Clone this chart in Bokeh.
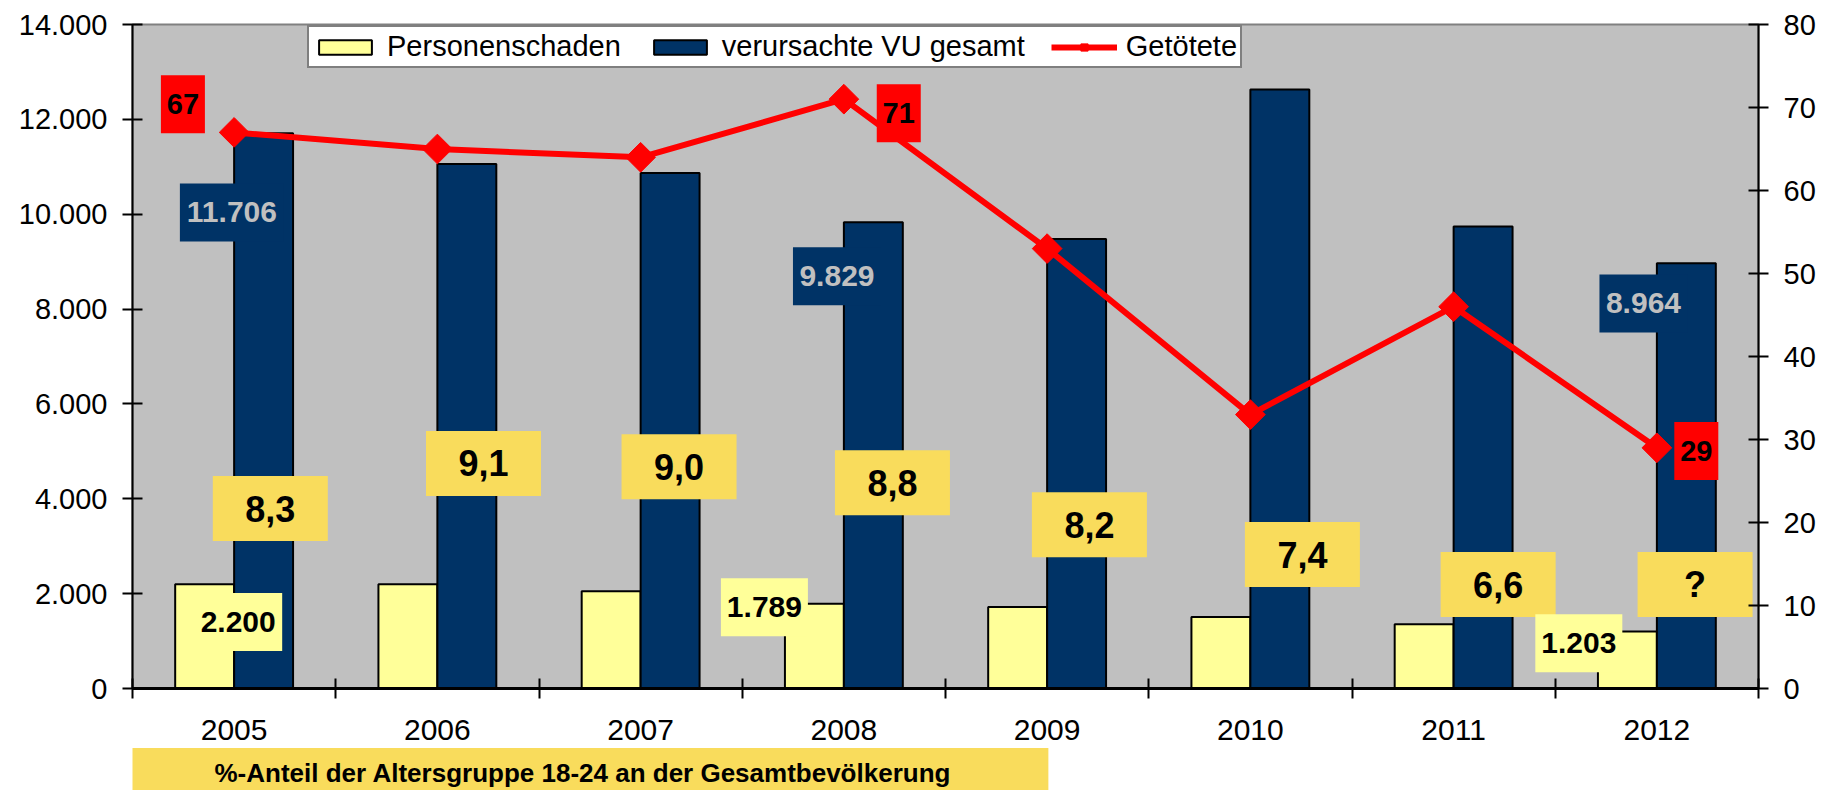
import numpy as np
from bokeh.plotting import figure
from bokeh.models import (Range1d, LinearAxis, FixedTicker, Legend, LegendItem,
                          Title, ColumnDataSource)
from bokeh.core.properties import value
from bokeh.embed import file_html
from bokeh.resources import INLINE

# ---------------- data ----------------
years = ["2005", "2006", "2007", "2008", "2009", "2010", "2011", "2012"]
personenschaden = [2200, 2200, 2050, 1789, 1720, 1510, 1355, 1203]
vu_gesamt = [11706, 11060, 10870, 9829, 9480, 12630, 9740, 8964]
getoetete = [67, 65, 64, 71, 53, 33, 46, 29]
anteil_18_24 = ["8,3", "9,1", "9,0", "8,8", "8,2", "7,4", "6,6", "?"]
left_ticks = [0, 2000, 4000, 6000, 8000, 10000, 12000, 14000]
left_tick_labels = ["0", "2.000", "4.000", "6.000", "8.000", "10.000", "12.000", "14.000"]
right_ticks = [0, 10, 20, 30, 40, 50, 60, 70, 80]
labelled_idx = [0, 3, 7]
footer_text = "%-Anteil der Altersgruppe 18-24 an der Gesamtbevölkerung"
legend_labels = ["Personenschaden", "verursachte VU gesamt", "Getötete"]

# ---------------- layout / style ----------------
FONT = "Liberation Sans"
BAR_W = 0.29
C_YEL = "#FFFF99"
C_BLUE = "#003366"
C_RED = "#FF0000"
C_GOLD = "#F9DC5C"
C_BG = "#C0C0C0"

fatal_lbl_dx = [-0.252, 0.27, 0.194]
fatal_lbl_y = [70.4, 69.3, 28.6]
vu_lbl_dx = [-0.011, -0.034, -0.066]
vu_lbl_y = [10038, 8690, 8120]
vu_lbl_w = [104, 88, 88]
pers_lbl_dx = [0.02, -0.391, -0.384]
pers_lbl_y = [1404, 1713, 955]
pers_lbl_w = [88, 87, 87]
pct_dx = [0.178, 0.227, 0.189, 0.239, 0.208, 0.256, 0.219, 0.188]
pct_y = [3793, 4744, 4674, 4337, 3452, 2824, 2192, 2192]


def de(v):
    return f"{v:,}".replace(",", ".")


x = np.arange(len(years))

p = figure(width=1832, height=795, x_range=Range1d(-0.5, len(years) - 0.5),
           y_range=Range1d(0, 14000), output_backend="svg", toolbar_location=None,
           min_border_left=132, min_border_right=74, min_border_top=24,
           min_border_bottom=107, background_fill_color=C_BG,
           border_fill_color="white", outline_line_color="#808080",
           outline_line_width=2)
p.extra_y_ranges = {"right": Range1d(0, 80)}
p.xgrid.visible = False
p.ygrid.visible = False

# bottom axis: boundary ticks only
xa = p.xaxis[0]
xa.ticker = FixedTicker(ticks=[i - 0.5 for i in range(len(years) + 1)])
xa.major_tick_in = 10
xa.major_tick_out = 10
xa.major_tick_line_width = 2
xa.major_tick_line_color = "black"
xa.minor_tick_line_color = None
xa.axis_line_width = 3
xa.axis_line_color = "black"
xa.major_label_text_font_size = "1px"
xa.major_label_text_color = None
xa.major_label_standoff = 0

# year labels axis
ya_years = LinearAxis(ticker=FixedTicker(ticks=list(x)),
                      major_label_overrides={int(i): years[i] for i in x},
                      axis_line_color=None, major_tick_line_color=None,
                      minor_tick_line_color=None, major_tick_in=0, major_tick_out=0,
                      major_label_standoff=21, major_label_text_font=FONT,
                      major_label_text_font_size="30px", major_label_text_color="black")
p.add_layout(ya_years, "below")

# footer box (below the year labels)
footer = Title(text=footer_text, align="left", offset=0, standoff=7,
               text_font=FONT, text_font_style="bold", text_font_size="26px",
               text_color="black", background_fill_color=C_GOLD,
               padding=dict(left=82, right=97, top=10, bottom=2))
p.add_layout(footer, "below")

# left axis
la = p.yaxis[0]
la.ticker = FixedTicker(ticks=left_ticks)
la.major_label_overrides = {t: s for t, s in zip(left_ticks, left_tick_labels)}
la.major_tick_in = 10
la.major_tick_out = 10
la.major_tick_line_width = 2
la.minor_tick_line_color = None
la.axis_line_width = 2
la.major_label_standoff = 15
la.major_label_text_font = FONT
la.major_label_text_font_size = "29px"
la.major_label_text_color = "black"

# right axis
ra = LinearAxis(y_range_name="right", ticker=FixedTicker(ticks=right_ticks),
                major_tick_in=10, major_tick_out=10, major_tick_line_width=2,
                minor_tick_line_color=None, axis_line_width=2,
                major_label_standoff=15, major_label_text_font=FONT,
                major_label_text_font_size="29px", major_label_text_color="black")
p.add_layout(ra, "right")

src = ColumnDataSource(dict(x=x, xp=x - BAR_W / 2, xv=x + BAR_W / 2,
                            pers=personenschaden, vu=vu_gesamt, fatal=getoetete))

b1 = p.vbar(x="xp", top="pers", width=BAR_W, fill_color=C_YEL, line_color="black",
            line_width=2, source=src)
b2 = p.vbar(x="xv", top="vu", width=BAR_W, fill_color=C_BLUE, line_color="black",
            line_width=2, source=src)
ln = p.line("x", "fatal", y_range_name="right", line_color=C_RED, line_width=6,
            source=src)
mk = p.scatter("x", "fatal", y_range_name="right", marker="square", angle=np.pi / 4,
               size=21, fill_color=C_RED, line_color=C_RED, source=src)

# percentage boxes
pct_src = ColumnDataSource(dict(x=x + np.array(pct_dx), y=pct_y, t=anteil_18_24))
p.rect("x", "y", width=115, height=65, width_units="screen", height_units="screen",
       fill_color=C_GOLD, line_color=None, source=pct_src)
p.text("x", "y", text="t", text_font=value(FONT), text_font_style="bold",
       text_font_size="36px", text_color="black", text_align="center",
       text_baseline="middle", source=pct_src)

# verursachte VU labels
idx = np.array(labelled_idx)
vu_src = ColumnDataSource(dict(x=idx + np.array(vu_lbl_dx), y=vu_lbl_y, w=vu_lbl_w,
                               t=[de(vu_gesamt[i]) for i in labelled_idx]))
p.rect("x", "y", width="w", height=58, width_units="screen", height_units="screen",
       fill_color=C_BLUE, line_color=None, source=vu_src)
p.text("x", "y", text="t", text_font=value(FONT), text_font_style="bold",
       text_font_size="30px", text_color=C_BG, text_align="center",
       text_baseline="middle", source=vu_src)

# Personenschaden labels
ps_src = ColumnDataSource(dict(x=idx + np.array(pers_lbl_dx), y=pers_lbl_y, w=pers_lbl_w,
                               t=[de(personenschaden[i]) for i in labelled_idx]))
p.rect("x", "y", width="w", height=58, width_units="screen", height_units="screen",
       fill_color=C_YEL, line_color=None, source=ps_src)
p.text("x", "y", text="t", text_font=value(FONT), text_font_style="bold",
       text_font_size="30px", text_color="black", text_align="center",
       text_baseline="middle", source=ps_src)

# Getötete labels
ft_src = ColumnDataSource(dict(x=idx + np.array(fatal_lbl_dx), y=fatal_lbl_y,
                               t=[str(getoetete[i]) for i in labelled_idx]))
p.rect("x", "y", width=44, height=58, width_units="screen", height_units="screen",
       fill_color=C_RED, line_color=None, y_range_name="right", source=ft_src)
p.text("x", "y", text="t", text_font=value(FONT), text_font_style="bold",
       text_font_size="29px", text_color="black", text_align="center",
       text_baseline="middle", y_range_name="right", source=ft_src)

# legend (kept inside the plot frame)
legend = Legend(items=[LegendItem(label=value(legend_labels[0]), renderers=[b1]),
                       LegendItem(label=value(legend_labels[1]), renderers=[b2]),
                       LegendItem(label=value(legend_labels[2]), renderers=[ln, mk])],
                orientation="horizontal", location=(175, 620),
                label_text_font=FONT, label_text_font_size="29px",
                label_text_color="black", glyph_width=66, glyph_height=18,
                label_standoff=9, spacing=26, padding=3, margin=0,
                border_line_color="black", border_line_width=2,
                background_fill_color="white", background_fill_alpha=1.0)
p.add_layout(legend)

open("out.html", "w").write(file_html(p, INLINE))
